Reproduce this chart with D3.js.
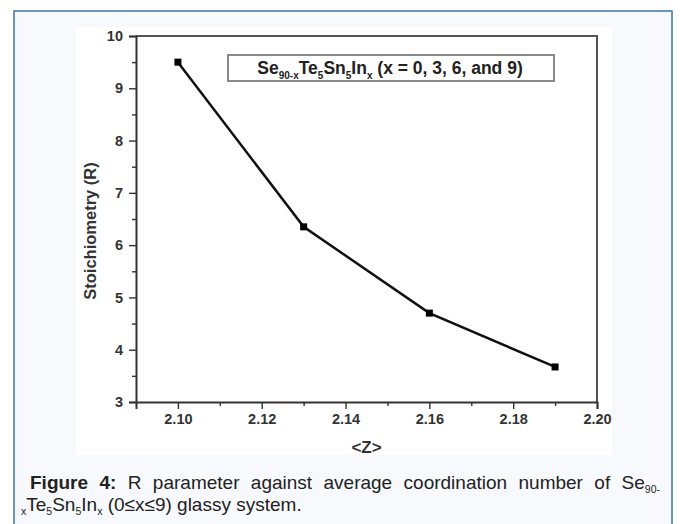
<!DOCTYPE html>
<html><head>
<meta charset="utf-8">
<script src="https://d3js.org/d3.v7.min.js"></script>
<style>
  body { margin: 0; background: #fff; }
  svg text { font-family: "Liberation Sans", Arial, sans-serif; }
</style>
</head>
<body>
<svg id="fig" width="680" height="524"></svg>
<script>
// values
const zValues = [2.10, 2.13, 2.16, 2.19];
const rValues = [9.5, 6.35, 4.7, 3.67];
const xTicks = [2.10, 2.12, 2.14, 2.16, 2.18, 2.20];
const yTicks = [3, 4, 5, 6, 7, 8, 9, 10];
const legendParts = [["Se", false], ["90-x", true], ["Te", false], ["5", true], ["Sn", false], ["5", true], ["In", false], ["x", true], [" (x = 0, 3, 6, and 9)", false]];
const captionLine2 = [["x", true], ["Te", false], ["5", true], ["Sn", false], ["5", true], ["In", false], ["x", true], [" (0≤x≤9) glassy system.", false]];

let svg = d3.select("#fig");

// writes text pieces with subscripts, each tspan's dy relative to the previous one
function subText(sel, parts, size, subSize, shift) {
  let cur = 0;
  parts.forEach(([s, sub]) => {
    let target = sub ? shift : 0;
    sel.append("tspan").attr("font-size", sub ? subSize : size)
       .attr("dy", target - cur).text(s);
    cur = target;
  });
}

// page panel
svg.append("rect").attr("x", 14).attr("y", 11).attr("width", 658).attr("height", 530)
   .attr("fill", "#f7f9fc").attr("stroke", "#3f70b0").attr("stroke-width", 1.5);
svg.append("rect").attr("x", 76).attr("y", 27).attr("width", 536).attr("height", 428)
   .attr("fill", "#fff");

let margin = {left: 136, top: 36, right: 597, bottom: 402};
let xScale = d3.scaleLinear().domain([2.09, 2.20]).range([margin.left, margin.right]);
let yScale = d3.scaleLinear().domain([3, 10]).range([margin.bottom, margin.top]);

// frame (top + right)
svg.append("path")
   .attr("d", `M${margin.left},${margin.top}H${margin.right}V${margin.bottom}`)
   .attr("fill", "none").attr("stroke", "#555").attr("stroke-width", 2);

// x axis
let xAxis = d3.axisBottom(xScale).tickValues(xTicks).tickFormat(d3.format(".2f")).tickSize(7).tickPadding(5);
svg.append("g").attr("transform", `translate(0,${margin.bottom})`).call(xAxis);
let xMinor = d3.axisBottom(xScale).tickValues(d3.range(2.11, 2.20, 0.02)).tickSize(4).tickFormat("");
svg.append("g").attr("transform", `translate(0,${margin.bottom})`).call(xMinor)
   .call(g => g.select(".domain").remove());

// y axis
let yAxis = d3.axisLeft(yScale).tickValues(yTicks).tickFormat(d3.format("d")).tickSize(7).tickPadding(6);
svg.append("g").attr("transform", `translate(${margin.left},0)`).call(yAxis);
let yMinor = d3.axisLeft(yScale).tickValues(d3.range(3.5, 10, 1)).tickSize(4).tickFormat("");
svg.append("g").attr("transform", `translate(${margin.left},0)`).call(yMinor)
   .call(g => g.select(".domain").remove());

svg.selectAll(".domain").attr("stroke", "#333").attr("stroke-width", 2);
svg.selectAll(".tick line").attr("stroke", "#333").attr("stroke-width", 1.4);
svg.selectAll(".tick text").style("font-size", "14.5px").style("font-weight", "bold")
   .attr("fill", "#333").style("font-family", "Liberation Sans, Arial, sans-serif");

// axis titles
svg.append("text").attr("x", (margin.left + margin.right) / 2).attr("y", 453)
   .attr("text-anchor", "middle").style("font-size", "17px").attr("font-weight", "bold")
   .attr("fill", "#333").text("<Z>");
svg.append("text").attr("transform", `translate(96,${(margin.top + margin.bottom) / 2 + 12}) rotate(-90)`)
   .attr("text-anchor", "middle").style("font-size", "16.5px").attr("font-weight", "bold")
   .attr("fill", "#333").text("Stoichiometry (R)");

// data line
let pts = zValues.map((z, i) => [z, rValues[i]]);
svg.append("path").datum(pts)
   .attr("d", d3.line().x(d => xScale(d[0])).y(d => yScale(d[1])))
   .attr("fill", "none").attr("stroke", "#111").attr("stroke-width", 2.5);
svg.selectAll("rect.pt").data(pts).join("rect").attr("class", "pt")
   .attr("x", d => xScale(d[0]) - 3.5).attr("y", d => yScale(d[1]) - 3.5)
   .attr("width", 7).attr("height", 7).attr("fill", "#000");

// legend box
svg.append("rect").attr("x", 228).attr("y", 55).attr("width", 326).attr("height", 26)
   .attr("fill", "#fff").attr("stroke", "#888").attr("stroke-width", 2);
let lt = svg.append("text").attr("x", 390).attr("y", 74).attr("text-anchor", "middle")
   .attr("font-weight", "bold").attr("fill", "#222");
subText(lt, legendParts, 17.5, 10, 5);

// caption
let cap = svg.append("g").attr("fill", "#222");
let line1 = ["Figure", "4:", "R", "parameter", "against", "average", "coordination", "number", "of", "Se"];
let words = line1.map((w, i) => {
  let t = cap.append("text").attr("y", 489).attr("font-size", 19)
             .attr("font-weight", i < 2 ? "bold" : "normal").text(w);
  if (w === "Se") t.append("tspan").attr("font-size", 10.5).attr("dy", 4).text("90-");
  return t;
});
let widths = words.map(t => t.node().getComputedTextLength());
let gap = (660 - 30 - d3.sum(widths)) / (words.length - 1);
let xpos = 30;
words.forEach((t, i) => { t.attr("x", xpos); xpos += widths[i] + gap; });

let l2 = cap.append("text").attr("x", 21).attr("y", 511);
subText(l2, captionLine2, 19, 10.5, 4);
</script>
</body></html>
